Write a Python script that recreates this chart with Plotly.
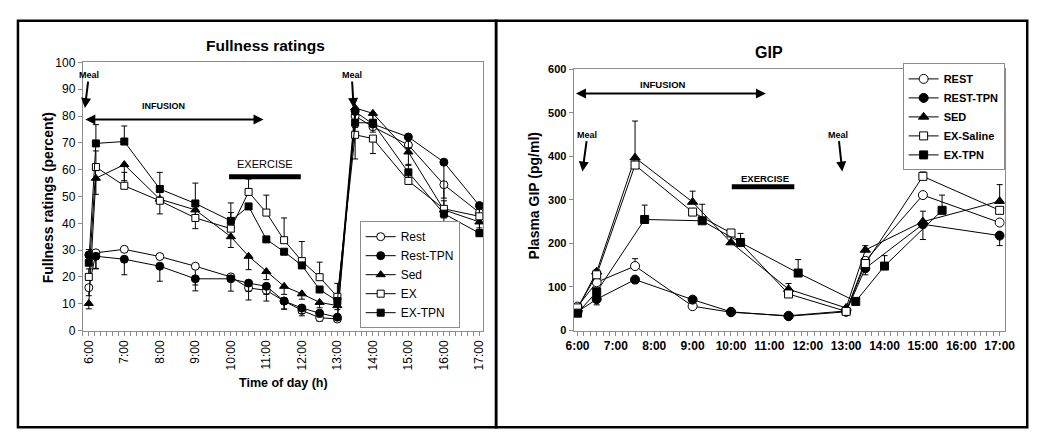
import plotly.graph_objects as go

# --- Fullness ratings (left panel) ---
horas_izq = [6.0, 6.2, 7, 8, 9, 10, 10.5, 11, 11.5, 12, 12.5, 13, 13.5, 14, 15, 16, 17]
rest = [16, 29, 30.3, 27.6, 24, 20, 15.9, 15, 11, 7.5, 4.8, 4.3, 80, 76, 69.2, 54.4, 44]
rest_tpn = [28.2, 27.7, 26.6, 24, 19.3, 19.3, 17.7, 16.5, 11, 8.4, 6.5, 5, 81.7, 77, 72.2, 62.8, 46.6]
sed = [10.1, 56.8, 61.9, 49, 45, 35, 27.7, 22, 16.5, 13.7, 10.5, 9.3, 83, 81, 66.6, 45, 40.5]
ex = [20, 61, 54, 48.4, 42, 38, 51.7, 44, 33.7, 25.9, 19.9, 12.6, 73, 71.6, 55.8, 45.4, 42.6]
ex_tpn = [25.3, 69.8, 70.5, 52.8, 47.4, 40.9, 46.3, 34, 29.4, 24.3, 15.3, 11, 77.5, 77.5, 59, 43.6, 36.3]

rest_menos = [3, 6, 0, 0, 7, 0, 4.5, 4, 3, 2, 1.3, 1, 8, 0, 3, 5, 0]
rest_tpn_mas = [2, 0, 0, 0, 0, 0, 0, 0, 0, 0, 0, 0, 0, 0, 0, 0, 0]
rest_tpn_menos = [0, 4.5, 5.8, 5.6, 4.5, 4.6, 3, 3, 3, 2, 1.5, 1, 6, 3, 4, 23, 9]
sed_menos = [2, 6, 6, 5.5, 7, 4, 5, 3, 3, 2, 2, 1.5, 5, 3, 5, 3, 3]
ex_mas = [3, 6, 5, 4, 5, 6, 4.8, 6.5, 8.3, 7.3, 5.6, 5, 0, 0, 3, 3, 3]
ex_menos = [0, 0, 0, 0, 0, 0, 0, 0, 0, 0, 0, 0, 9, 5.6, 0, 0, 0]
ex_tpn_mas = [0, 7, 5.8, 6.2, 7.6, 6.7, 0, 0, 0, 0, 0, 0, 4, 3, 3, 0, 2]

# --- GIP (right panel) ---
horas_der = [6, 6.5, 7.5, 9, 10, 11.5, 13, 13.5, 15, 17]
horas_ex_tpn = [6, 6.5, 7.75, 9.25, 10.25, 11.75, 13.25, 14, 15.5]
gip_rest = [55, 111, 148, 56, 42, 34, 45, 160, 311, 248]
gip_rest_tpn = [43, 72, 117, 71, 43, 33, 43, 143, 244, 218]
gip_sed = [50, 135, 397, 295, 202, 95, 52, 185, 250, 297]
gip_ex_saline = [52, 128, 380, 272, 224, 84, 44, 154, 354, 276]
gip_ex_tpn = [40, 89, 255, 252, 202, 132, 67, 148, 276]

gip_rest_mas = [0, 0, 17, 0, 0, 0, 0, 0, 0, 0]
gip_rest_tpn_mas = [0, 0, 0, 0, 0, 0, 0, 0, 30, 0]
gip_rest_tpn_menos = [0, 13, 8, 0, 0, 0, 0, 15, 35, 23]
gip_sed_mas = [0, 0, 84, 25, 0, 13, 0, 10, 0, 38]
gip_ex_saline_mas = [5, 12, 0, 0, 0, 0, 0, 0, 10, 0]
gip_ex_tpn_mas = [0, 0, 33, 38, 21, 31, 0, 24, 35]

tick_horas = list(range(6, 18))
tick_texto = [f"{h}:00" for h in tick_horas]

FONT = "Liberation Sans, Arial, sans-serif"
GRIS = "#8c8c8c"

# la pagina deja 8 px de margen: el lienzo util es 1042 x 437
W, H = 1042, 437


def px(X):
    return (X - 8) / W


def py(Y):
    return 1 - (Y - 8) / H


def marcador(simbolo, relleno, tam):
    return dict(symbol=simbolo, size=tam, color=relleno, line=dict(color="black", width=1))


def barras(mas=None, menos=None, n=20):
    mas = mas if mas is not None else [0] * n
    menos = menos if menos is not None else [0] * n
    return dict(
        type="data", symmetric=False,
        array=[v if v else None for v in mas],
        arrayminus=[v if v else None for v in menos],
        color="black", thickness=1, width=3,
    )


fig = go.Figure()

series_izq = [
    ("Rest", rest, marcador("circle", "white", 8), barras(menos=rest_menos)),
    ("Rest-TPN", rest_tpn, marcador("circle", "black", 8), barras(rest_tpn_mas, rest_tpn_menos)),
    ("Sed", sed, marcador("triangle-up", "black", 8), barras(menos=sed_menos)),
    ("EX", ex, marcador("square", "white", 7), barras(ex_mas, ex_menos)),
    ("EX-TPN", ex_tpn, marcador("square", "black", 7), barras(mas=ex_tpn_mas)),
]
for nombre, valores, mk, err in series_izq:
    fig.add_trace(go.Scatter(
        x=horas_izq, y=valores, name=nombre, mode="lines+markers",
        line=dict(color="black", width=1), marker=mk, error_y=err,
        xaxis="x", yaxis="y", legend="legend",
    ))

series_der = [
    ("REST", horas_der, gip_rest, marcador("circle", "white", 9), barras(mas=gip_rest_mas)),
    ("REST-TPN", horas_der, gip_rest_tpn, marcador("circle", "black", 9), barras(gip_rest_tpn_mas, gip_rest_tpn_menos)),
    ("SED", horas_der, gip_sed, marcador("triangle-up", "black", 9), barras(mas=gip_sed_mas)),
    ("EX-Saline", horas_der, gip_ex_saline, marcador("square", "white", 8), barras(mas=gip_ex_saline_mas)),
    ("EX-TPN", horas_ex_tpn, gip_ex_tpn, marcador("square", "black", 8), barras(mas=gip_ex_tpn_mas)),
]
for nombre, horas, valores, mk, err in series_der:
    fig.add_trace(go.Scatter(
        x=horas, y=valores, name=nombre, mode="lines+markers",
        line=dict(color="black", width=1), marker=mk, error_y=err,
        xaxis="x2", yaxis="y2", legend="legend2",
    ))

eje_comun = dict(
    showline=True, linecolor=GRIS, linewidth=1, mirror=True, showgrid=False,
    zeroline=False, ticks="outside", ticklen=4, tickcolor=GRIS,
)

fig.update_layout(
    width=W, height=H, autosize=False,
    margin=dict(l=0, r=0, t=0, b=0),
    paper_bgcolor="white", plot_bgcolor="white",
    font=dict(family=FONT, color="black"),
    xaxis=dict(
        **eje_comun, domain=[px(76), px(484)], range=[5.83, 17.11],
        tickmode="array", tickvals=tick_horas, ticktext=tick_texto, tickangle=-90,
        tickfont=dict(size=12),
        minor=dict(ticks="outside", dtick=1 / 6, tick0=6, ticklen=4, tickcolor=GRIS),
    ),
    yaxis=dict(
        **eje_comun, domain=[py(334), py(57)], range=[0, 100], dtick=10,
        tickfont=dict(size=12),
    ),
    xaxis2=dict(
        **eje_comun, domain=[px(576), px(1015)], range=[5.9, 17.13], anchor="y2",
        tickmode="array", tickvals=tick_horas, ticktext=tick_texto,
        tickfont=dict(size=12, weight="bold"),
        minor=dict(ticks="outside", dtick=1 / 6, tick0=6, ticklen=4, tickcolor=GRIS),
    ),
    yaxis2=dict(
        **eje_comun, domain=[py(334), py(64)], range=[0, 600], dtick=100,
        anchor="x2", tickfont=dict(size=11, weight="bold"),
    ),
    legend=dict(
        x=px(409), y=py(221), xanchor="center", yanchor="top",
        bgcolor="white", bordercolor=GRIS, borderwidth=1,
        font=dict(size=12), tracegroupgap=0, itemwidth=30,
    ),
    legend2=dict(
        x=px(1015), y=py(58), xanchor="right", yanchor="top",
        bgcolor="white", bordercolor=GRIS, borderwidth=1,
        font=dict(size=11, weight="bold"), tracegroupgap=0, itemwidth=30,
    ),
)

# marcos de los paneles
for x0, x1 in [(10, 497), (497, 1038)]:
    fig.add_shape(type="rect", xref="paper", yref="paper",
                  x0=px(x0), x1=px(x1), y0=py(434), y1=py(14),
                  line=dict(color="black", width=2.5))

# barras de ejercicio
fig.add_shape(type="line", xref="x", yref="y", x0=9.95, x1=11.97, y0=57.4, y1=57.4,
              line=dict(color="black", width=5))
fig.add_shape(type="line", xref="x2", yref="y2", x0=10.02, x1=11.65, y0=330, y1=330,
              line=dict(color="black", width=5))

textos = [
    dict(text="<b>Fullness ratings</b>", x=262, y=40, size=15.5),
    dict(text="<b>GIP</b>", x=775, y=47, size=16),
    dict(text="<b>Time of day (h)</b>", x=280, y=388, size=12.5),
    dict(text="<b>Fullness ratings (percent)</b>", x=41, y=197, size=14, angle=-90),
    dict(text="<b>Plasma GIP (pg/ml)</b>", x=536, y=195, size=14, angle=-90),
]
for t in textos:
    fig.add_annotation(text=t["text"], xref="paper", yref="paper", x=px(t["x"]), y=py(t["y"]),
                       xanchor="center", yanchor="middle", showarrow=False,
                       textangle=t.get("angle", 0),
                       font=dict(size=t["size"], family=FONT, color="black"))

# INFUSION y EXERCISE
fig.add_annotation(text="<b>INFUSION</b>", xref="x", yref="y", x=8.1, y=83.8,
                   xanchor="center", yanchor="middle", showarrow=False, font=dict(size=9))
fig.add_annotation(text="EXERCISE", xref="x", yref="y", x=10.97, y=62,
                   xanchor="center", yanchor="middle", showarrow=False, font=dict(size=11))
fig.add_annotation(text="<b>INFUSION</b>", xref="x2", yref="y2", x=8.22, y=565,
                   xanchor="center", yanchor="middle", showarrow=False, font=dict(size=9.5))
fig.add_annotation(text="<b>EXERCISE</b>", xref="x2", yref="y2", x=10.88, y=350,
                   xanchor="center", yanchor="middle", showarrow=False, font=dict(size=9.5))

# flechas dobles de infusion
flecha_doble = dict(text="", showarrow=True, arrowhead=2, startarrowhead=2,
                    arrowside="end+start", arrowwidth=2, arrowsize=1, arrowcolor="black")
fig.add_annotation(**flecha_doble, xref="x", yref="y", axref="x", ayref="y",
                   x=10.92, y=78.7, ax=5.86, ay=78.7)
fig.add_annotation(**flecha_doble, xref="x2", yref="y2", axref="x2", ayref="y2",
                   x=10.91, y=544, ax=5.92, ay=544)

# flechas de comida
comida = dict(text="<b>Meal</b>", showarrow=True, arrowhead=2, arrowwidth=2,
              arrowsize=1, arrowcolor="black", font=dict(size=9))
fig.add_annotation(**comida, xref="x", yref="y", x=5.89, y=83, ax=4, ay=-33)
fig.add_annotation(**comida, xref="x", yref="y", x=13.46, y=83, ax=-2, ay=-33)
fig.add_annotation(**comida, xref="x2", yref="y2", x=6.13, y=365, ax=5, ay=-37)
fig.add_annotation(**comida, xref="x2", yref="y2", x=12.9, y=365, ax=-4, ay=-37)

fig.write_html("out.html")
